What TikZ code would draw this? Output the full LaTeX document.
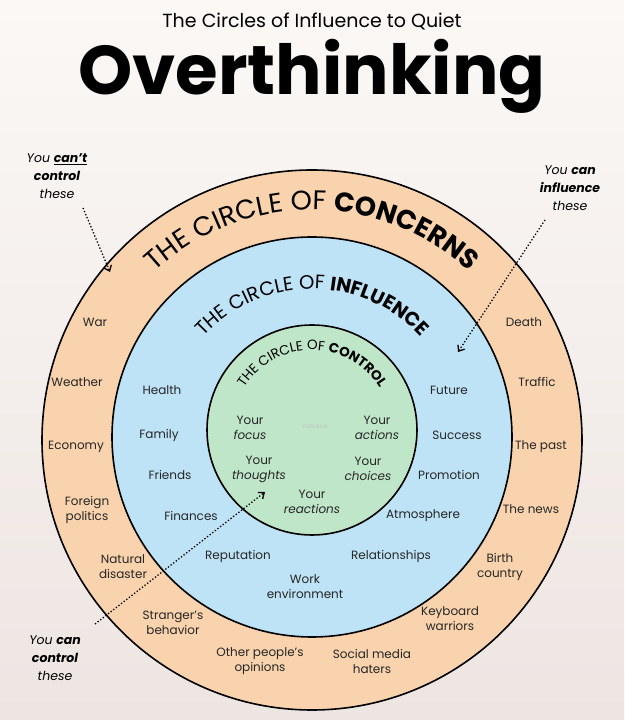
\documentclass[tikz,border=0pt]{standalone}
\usepackage{fontspec}
\setmainfont{Poppins}
\usetikzlibrary{decorations.text,arrows.meta}
\definecolor{peach}{HTML}{F9D3AD}
\definecolor{sky}{HTML}{BEE3F6}
\definecolor{mint}{HTML}{BFE6C9}
\definecolor{bgtop}{HTML}{FBF8F6}
\definecolor{bgbot}{HTML}{EDE5E2}
\tikzset{
  lbl/.style={font=\fontsize{12}{15}\selectfont, align=center, text=black!85},
  ring/.style={draw=black, line width=1.6pt},
  note/.style={font=\fontsize{12.5}{18}\selectfont\itshape, align=center},
  dotarrow/.style={dotted, line width=1.3pt, -{Straight Barb[length=5pt,width=8pt]}}
}
\begin{document}
\begin{tikzpicture}[x=1pt,y=1pt]
\shade[top color=bgtop,bottom color=bgbot] (0,0) rectangle (624,720);
\useasboundingbox (0,0) rectangle (624,720);
\coordinate (C1) at (312,280);
\coordinate (C2) at (312,283);
\coordinate (C3) at (312,290);
\fill[peach] (C1) circle[radius=270];
\draw[ring] (C1) circle[radius=270];
\fill[sky] (C2) circle[radius=200];
\draw[ring] (C2) circle[radius=200];
\fill[mint] (C3) circle[radius=105];
\draw[ring] (C3) circle[radius=105];
% curved titles
\path[decorate,decoration={text along path,text align=center,
 text={|\fontsize{27}{27}\selectfont|THE CIRCLE OF |\fontsize{27}{27}\selectfont\bfseries|CONCERNS}}]
 (C1) ++(140:230) arc[start angle=140,end angle=40,radius=230];
\path[decorate,decoration={text along path,text align=center,
 text={|\fontsize{19.5}{19.5}\selectfont|THE CIRCLE OF |\fontsize{19.5}{19.5}\selectfont\bfseries|INFLUENCE}}]
 (C2) ++(145:148) arc[start angle=145,end angle=35,radius=148];
\path[decorate,decoration={text along path,text align=center,
 text={|\fontsize{13.5}{13.5}\selectfont|THE CIRCLE OF |\fontsize{13.5}{13.5}\selectfont\bfseries|CONTROL}}]
 (C3) ++(160:80) arc[start angle=160,end angle=20,radius=80];
% title
\node (t1) at (312,698) {\fontsize{19}{22}\selectfont The Circles of Influence to Quiet};
\node (t2) at (312,644) {\fontsize{69}{74}\selectfont\bfseries Overthinking};
% outer ring labels
\node[lbl] (a1) at (95,398) {War};
\node[lbl] (a2) at (77,338) {Weather};
\node[lbl] (a3) at (76,273) {Economy};
\node[lbl] (a4) at (87,210) {Foreign\\politics};
\node[lbl] (a5) at (123,153) {Natural\\disaster};
\node[lbl] (a6) at (173,97) {Stranger's\\behavior};
\node[lbl] (a7) at (260,59) {Other people's\\opinions};
\node[lbl] (a8) at (372,59) {Social media\\haters};
\node[lbl] (a9) at (450,101) {Keyboard\\warriors};
\node[lbl] (a10) at (500,153) {Birth\\country};
\node[lbl] (a11) at (531,211) {The news};
\node[lbl] (a12) at (541,273) {The past};
\node[lbl] (a13) at (537,338) {Traffic};
\node[lbl] (a14) at (524,398) {Death};
% middle ring labels
\node[lbl] (b1) at (162,330) {Health};
\node[lbl] (b2) at (159,285) {Family};
\node[lbl] (b3) at (170,245) {Friends};
\node[lbl] (b4) at (191,204) {Finances};
\node[lbl] (b5) at (238,164) {Reputation};
\node[lbl] (b6) at (305,133) {Work\\environment};
\node[lbl] (b7) at (391,164) {Relationships};
\node[lbl] (b8) at (423,204) {Atmosphere};
\node[lbl] (b9) at (449,245) {Promotion};
\node[lbl] (b10) at (457,285) {Success};
\node[lbl] (b11) at (449,330) {Future};
% inner labels
\node[lbl] (c1) at (250,292) {Your\\\itshape focus};
\node[lbl] (c2) at (377,292) {Your\\\itshape actions};
\node[lbl] (c3) at (259,251) {Your\\\itshape thoughts};
\node[lbl] (c4) at (368,251) {Your\\\itshape choices};
\node[lbl] (c5) at (312,218) {Your\\\itshape reactions};
\node[font=\fontsize{5}{6}\selectfont, text=black!25] (wm) at (315,293) {YOGVIDYA};
% notes
\node[note] (n1) at (57,544) {You \textbf{\underline{can't}}\\\textbf{control}\\these};
\node[note] (n2) at (570,532) {You \textbf{can}\\\textbf{influence}\\these};
\node[note] (n3) at (55,62) {You \textbf{can}\\\textbf{control}\\these};
\coordinate (e1) at (110,448);
\coordinate (e2) at (458,368);
\coordinate (e3) at (265,228);
\draw[dotarrow] (n1.south) ++(26,-6) -- (e1);
\draw[dotarrow] (n2.south) ++(-25,-6) -- (e2);
\draw[dotarrow] (n3.north) ++(40,8) -- (e3);
\end{tikzpicture}
\end{document}
